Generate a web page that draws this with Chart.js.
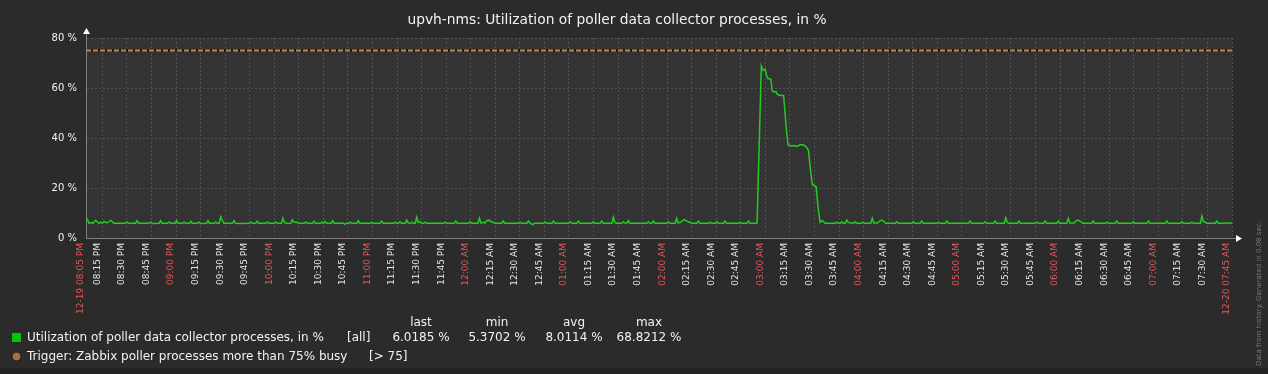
<!DOCTYPE html>
<html>
<head>
<meta charset="utf-8">
<title>upvh-nms: poller utilization</title>
<script src="https://cdn.jsdelivr.net/npm/chart.js@4.4.1/dist/chart.umd.min.js"></script>
<style>
  html, body { margin: 0; padding: 0; background: #2b2b2b; }
  canvas { display: block; }
</style>
</head>
<body>
<canvas id="graph" width="1268" height="374"></canvas>
<script>
const graphTitle = 'upvh-nms: Utilization of poller data collector processes, in %';
const itemName = 'Utilization of poller data collector processes, in %';
const triggerName = 'Trigger: Zabbix poller processes more than 75% busy';
const triggerLevel = 75;

// time axis labels, 12-19 08:05 PM .. 12-20 07:45 AM
const xTickLabels = [
    '12-19 08:05 PM', '08:15 PM', '08:30 PM', '08:45 PM',
    '09:00 PM', '09:15 PM', '09:30 PM', '09:45 PM',
    '10:00 PM', '10:15 PM', '10:30 PM', '10:45 PM',
    '11:00 PM', '11:15 PM', '11:30 PM', '11:45 PM',
    '12:00 AM', '12:15 AM', '12:30 AM', '12:45 AM',
    '01:00 AM', '01:15 AM', '01:30 AM', '01:45 AM',
    '02:00 AM', '02:15 AM', '02:30 AM', '02:45 AM',
    '03:00 AM', '03:15 AM', '03:30 AM', '03:45 AM',
    '04:00 AM', '04:15 AM', '04:30 AM', '04:45 AM',
    '05:00 AM', '05:15 AM', '05:30 AM', '05:45 AM',
    '06:00 AM', '06:15 AM', '06:30 AM', '06:45 AM',
    '07:00 AM', '07:15 AM', '07:30 AM', '12-20 07:45 AM'
];
const yTicks = [0, 20, 40, 60, 80];

// samples: minutes after 08:05 PM, utilization in %
const minutes = [
    0, 0.9, 1.8, 3.1, 4.3, 5.9, 7.9, 9.2, 10.1, 11.0, 12.8, 15.1, 17.1,
    24.1, 25.0, 25.9, 30.3, 31.2, 32.1, 38.6, 39.5, 40.4, 44.7, 45.6, 46.5,
    49.8, 50.7, 51.6, 54.4, 55.3, 56.2, 59.0, 59.9, 60.8, 63.1, 64.0, 64.9,
    68.1, 69.0, 69.9, 73.6, 74.5, 75.4, 78.3, 79.2, 80.1, 81.4, 82.3, 83.3, 84.2,
    86.3, 89.5, 90.4, 91.3, 94.5, 99.7, 100.6, 101.5, 103.7, 104.6, 105.5,
    109.9, 110.8, 111.7, 115.0, 115.9, 116.8, 119.4, 120.3, 121.2, 123.0,
    125.1, 126.0, 127.0, 129.1, 130.0, 133.3, 134.2, 135.1, 138.4, 139.3, 140.2,
    143.1, 144.0, 145.0, 146.0, 146.9, 149.8, 150.7, 151.6, 157.3, 158.2, 159.1,
    160.4, 161.3, 162.2, 165.4, 166.3, 167.2, 173.6, 174.5, 175.4, 179.7, 180.6, 181.5,
    187.9, 188.8, 189.7, 190.9, 191.8, 192.7, 195.0, 195.9, 196.8, 198.1, 199.0, 199.9,
    201.1, 202.0, 202.9, 204.0, 205.0, 206.2, 207.1, 208.0, 218.4, 219.3, 220.2,
    224.9, 225.8, 226.7, 233.7, 234.6, 235.5, 239.4, 240.3, 241.2, 242.7, 243.6,
    244.3, 245.8, 247.3, 248.2, 248.8, 249.7, 254.0, 254.9, 255.8,
    264.2, 265.1, 266.0, 269.3, 270.2, 271.1, 272.9, 273.8,
    279.5, 280.4, 281.3, 284.6, 285.5, 286.4, 294.8, 295.7, 296.6, 299.8, 300.7, 301.6,
    309.0, 309.9, 310.8, 314.1, 315.0, 315.9, 321.2, 322.1, 323.0, 324.0,
    327.3, 328.2, 329.1, 330.4, 331.3, 332.2, 342.6, 343.5, 344.4, 345.7, 346.6, 347.5,
    354.8, 355.7, 356.6, 359.9, 360.8, 361.7, 363.2, 364.2, 365.5, 366.8, 368.0, 369.0, 369.9,
    373.1, 374.0, 374.9, 380.3, 381.2, 382.1, 384.4, 385.3, 386.2, 389.4, 390.3, 391.2,
    398.6, 399.5, 400.4, 403.7, 404.6, 405.5, 408.7,
    409.9, 411.1, 412.5, 413.6, 414.8, 415.9, 416.6, 418.3, 419.1, 419.7, 421.5, 422.1, 423.9, 426.1,
    427.0, 428.0, 428.8, 430.7, 432.6, 434.3, 436.2, 438.0, 439.9, 441.3, 442.4, 443.6, 444.8, 446.0,
    447.2, 448.4, 449.8, 451.4,
    457.7, 458.6, 459.5, 460.7, 461.6, 462.5, 463.8, 464.7, 465.6, 468.9, 469.8, 470.7,
    473.7, 474.6, 475.5, 479.4, 480.3, 481.2, 483.4, 484.6, 486.1, 487.6, 488.5,
    494.3, 495.2, 496.1, 504.5, 505.4, 506.3, 509.6, 510.5, 511.4, 519.7, 520.6, 521.5,
    524.9, 525.8, 526.7, 539.1, 540.0, 540.9, 548.3, 549.2, 550.1, 554.4, 555.3, 556.2,
    560.9, 561.8, 562.7, 563.6, 569.0, 569.9, 570.8,
    579.9, 580.8, 581.7, 584.9, 585.8, 586.7, 593.0, 593.9, 594.8, 599.1, 600.0, 600.9,
    603.5, 604.6, 605.8, 607.0, 608.0, 609.0, 614.4, 615.3, 616.2, 622.6, 623.5, 624.4,
    628.7, 629.6, 630.5, 638.8, 639.7, 640.6, 648.0, 648.9, 649.8, 659.3, 660.2, 661.1,
    668.5, 669.4, 670.3, 674.6, 675.5, 676.4, 680.7, 681.6, 682.5, 683.6, 684.5,
    689.8, 690.7, 691.6, 700
];
const utilization = [
    8.0, 7.4, 5.9, 6.2, 5.9, 7.1, 5.9, 6.3, 6.0, 6.6, 6.0, 7.0, 5.9,
    5.9, 6.4, 5.9, 5.9, 6.9, 5.9, 5.9, 6.4, 5.8, 5.9, 6.9, 5.9,
    5.9, 6.4, 5.9, 5.9, 6.9, 5.9, 5.9, 6.4, 5.9, 5.9, 6.7, 5.9,
    5.9, 6.4, 5.8, 5.9, 6.9, 5.9, 5.9, 6.4, 5.9, 5.9, 8.5, 7.0, 5.9,
    5.9, 5.9, 7.0, 5.9, 5.8, 5.9, 6.4, 5.9, 5.9, 6.7, 5.9,
    5.9, 6.4, 5.9, 5.9, 6.4, 5.9, 5.9, 7.9, 6.2, 5.8,
    5.9, 7.3, 6.4, 6.2, 5.9, 5.9, 6.4, 5.9, 5.9, 6.7, 5.9,
    5.9, 6.3, 5.9, 6.6, 5.9, 5.9, 6.9, 5.9, 5.9, 5.5, 5.9,
    5.9, 6.3, 5.9, 5.9, 6.9, 5.9, 5.9, 6.3, 5.9, 5.9, 6.8, 5.9,
    5.9, 6.3, 5.9, 5.9, 6.5, 5.9, 5.9, 7.2, 6.0, 5.9, 6.3, 5.9,
    5.9, 8.3, 6.2, 6.5, 5.9, 5.9, 6.3, 5.9, 5.9, 6.3, 5.9,
    5.9, 6.8, 5.9, 5.9, 6.5, 5.9, 5.9, 7.9, 6.0, 6.3, 5.9,
    6.6, 7.2, 6.6, 6.2, 6.3, 5.9, 5.9, 6.8, 5.9,
    5.9, 6.3, 5.9, 5.9, 6.8, 6.0, 5.3, 5.9,
    5.9, 6.5, 5.9, 5.9, 6.8, 5.9, 5.9, 6.5, 5.9, 5.9, 6.8, 5.9,
    5.9, 6.5, 5.9, 5.9, 6.8, 5.9, 5.9, 8.3, 6.3, 5.9,
    5.9, 6.5, 6.0, 6.0, 6.9, 5.9, 5.9, 6.5, 5.9, 5.9, 6.8, 5.9,
    5.9, 6.5, 5.9, 5.9, 7.9, 6.0, 6.3, 6.9, 7.4, 6.9, 6.3, 6.3, 5.9,
    5.9, 6.8, 5.9, 5.9, 6.3, 5.9, 5.9, 6.5, 5.9, 5.9, 6.8, 5.9,
    5.9, 6.3, 5.9, 5.9, 6.8, 5.9, 5.9,
    6.0, 35, 68.8212, 67, 67.5, 64.5, 63.8, 63.5, 59, 58.5, 58.5, 57.5, 57, 57,
    50, 42, 37.2, 36.8, 37, 36.6, 37.3, 37.3, 36.5, 35, 28, 21.5, 21, 20.5,
    12, 6.2, 7.0, 5.9,
    5.9, 6.3, 5.9, 5.9, 6.5, 5.9, 5.9, 7.2, 6.2, 5.9, 6.5, 5.9,
    5.9, 6.3, 5.9, 5.9, 7.9, 6.0, 6.0, 6.7, 7.2, 6.5, 5.9,
    5.9, 6.5, 5.9, 5.9, 6.5, 5.9, 5.9, 6.8, 5.9, 5.9, 6.3, 5.9,
    5.9, 6.8, 5.9, 5.9, 6.8, 5.9, 5.9, 6.5, 5.9, 5.9, 6.8, 5.9,
    5.9, 8.1, 6.3, 5.9, 5.9, 6.8, 5.9,
    5.9, 6.3, 5.9, 5.9, 6.8, 5.9, 5.9, 6.8, 5.9, 5.9, 7.9, 6.0,
    6.0, 6.8, 7.2, 6.8, 6.3, 5.9, 5.9, 6.8, 5.9, 5.9, 6.3, 5.9,
    5.9, 6.8, 5.9, 5.9, 6.5, 5.9, 5.9, 6.8, 5.9, 5.9, 6.8, 5.9,
    5.9, 6.5, 5.9, 5.9, 6.3, 5.9, 5.9, 8.8, 6.6, 6.3, 5.9,
    5.9, 6.8, 5.9, 6.0185
];

// legend table
const legendHeaders = ['last', 'min', 'avg', 'max'];
const legendValues = ['6.0185 %', '5.3702 %', '8.0114 %', '68.8212 %'];
const footNote = 'Data from history. Generated in 0.08 sec.';

const TEXT = '#f2f2f2';
const RED = '#e8575a';
const ITEM_COLOR = '#00c800';
const TRIGGER_COLOR = '#c8864e';

function labelMinutes(label) {
    const m = label.match(/(\d\d):(\d\d) (AM|PM)$/);
    let t = (parseInt(m[1], 10) % 12 + (m[3] === 'PM' ? 12 : 0)) * 60 + parseInt(m[2], 10);
    t -= 20 * 60 + 5;
    if (t < 0) t += 1440;
    return t;
}
const labelAt = new Map(xTickLabels.map(l => [labelMinutes(l), l]));
const isMainLabel = l => /^\d\d-\d\d /.test(l) || / ?\d\d:00 /.test(l);

const zabbixFrame = {
    id: 'zabbixFrame',
    beforeDraw(chart) {
        const {ctx, chartArea: a} = chart;
        ctx.save();
        ctx.fillStyle = '#2b2b2b';
        ctx.fillRect(0, 0, chart.width, chart.height);
        ctx.fillStyle = '#222222';
        ctx.fillRect(0, chart.height - 6, chart.width, 6);
        ctx.fillStyle = '#333333';
        ctx.fillRect(a.left, a.top, a.right - a.left, a.bottom - a.top);
        ctx.restore();
    },
    afterDraw(chart) {
        const {ctx, chartArea: a} = chart;
        ctx.save();

        // title
        ctx.fillStyle = TEXT;
        ctx.font = '13.8px "DejaVu Sans"';
        ctx.textAlign = 'center';
        ctx.textBaseline = 'middle';
        ctx.fillText(graphTitle, 617, 20);

        // axis extensions with arrows
        ctx.strokeStyle = '#808080';
        ctx.lineWidth = 1;
        ctx.beginPath();
        ctx.moveTo(a.left + 0.5, a.top);
        ctx.lineTo(a.left + 0.5, a.top - 6);
        ctx.moveTo(a.right, a.bottom + 0.5);
        ctx.lineTo(a.right + 5, a.bottom + 0.5);
        ctx.stroke();
        ctx.fillStyle = '#ffffff';
        ctx.beginPath();
        ctx.moveTo(a.left + 0.5, a.top - 10);
        ctx.lineTo(a.left - 3, a.top - 4);
        ctx.lineTo(a.left + 4, a.top - 4);
        ctx.closePath();
        ctx.fill();
        ctx.beginPath();
        ctx.moveTo(a.right + 10, a.bottom + 0.5);
        ctx.lineTo(a.right + 4, a.bottom - 3);
        ctx.lineTo(a.right + 4, a.bottom + 4);
        ctx.closePath();
        ctx.fill();

        // legend
        const cols = [421, 497, 574, 649];
        ctx.font = '12px "DejaVu Sans"';
        ctx.fillStyle = TEXT;
        ctx.textAlign = 'center';
        legendHeaders.forEach((h, i) => ctx.fillText(h, cols[i], 323));
        legendValues.forEach((v, i) => ctx.fillText(v, cols[i], 338));
        ctx.textAlign = 'left';
        ctx.fillText(itemName, 27, 338);
        ctx.fillText('[all]', 347, 338);
        ctx.fillText(triggerName, 27, 357);
        ctx.fillText('[> ' + triggerLevel + ']', 369, 357);

        ctx.fillStyle = ITEM_COLOR;
        ctx.fillRect(12, 333, 9, 9);
        ctx.fillStyle = '#a8703f';
        ctx.strokeStyle = '#1a1a1a';
        ctx.beginPath();
        ctx.arc(16.5, 356.5, 4.5, 0, Math.PI * 2);
        ctx.fill();
        ctx.stroke();

        // footnote on the right edge
        ctx.translate(1259, 366);
        ctx.rotate(-Math.PI / 2);
        ctx.font = '7px "DejaVu Sans"';
        ctx.fillStyle = '#7a7a7a';
        ctx.textAlign = 'left';
        ctx.textBaseline = 'middle';
        ctx.fillText(footNote, 0, 0);
        ctx.restore();
    }
};

Chart.defaults.font.family = '"DejaVu Sans"';

const ctx = document.getElementById('graph').getContext('2d');
const graph = new Chart(ctx, {
    type: 'line',
    data: {
        datasets: [
            {
                label: itemName,
                data: minutes.map((m, i) => ({x: m, y: utilization[i]})),
                borderColor: '#22cc22',
                borderWidth: 1.5,
                pointRadius: 0,
                tension: 0,
                order: 1
            },
            {
                label: 'trigger-base',
                data: [{x: 0, y: triggerLevel}, {x: 700, y: triggerLevel}],
                borderColor: '#111111',
                borderWidth: 2,
                pointRadius: 0,
                order: 3
            },
            {
                label: triggerName,
                data: [{x: 0, y: triggerLevel}, {x: 700, y: triggerLevel}],
                borderColor: TRIGGER_COLOR,
                borderWidth: 2,
                borderDash: [5, 2],
                pointRadius: 0,
                order: 2
            }
        ]
    },
    options: {
        responsive: false,
        animation: false,
        devicePixelRatio: 1,
        layout: {padding: {left: 0, right: 36, top: 38, bottom: 0}},
        scales: {
            x: {
                type: 'linear',
                min: 0,
                max: 700,
                afterBuildTicks: scale => {
                    scale.ticks = xTickLabels.map(l => ({value: labelMinutes(l)}));
                },
                afterFit: scale => { scale.height = 136; },
                ticks: {
                    autoSkip: false,
                    minRotation: 90,
                    maxRotation: 90,
                    padding: 5,
                    labelOffset: -5,
                    font: {size: 9},
                    callback: value => labelAt.get(value),
                    color: c => isMainLabel(labelAt.get(c.tick.value) || '') ? RED : '#e6e6e6'
                },
                grid: {
                    drawTicks: false,
                    color: c => (c.tick && c.tick.value === 0) ? 'rgba(0,0,0,0)' : '#505050'
                },
                border: {color: '#808080', dash: [2, 2]}
            },
            y: {
                min: 0,
                max: 80,
                afterBuildTicks: scale => {
                    scale.ticks = yTicks.map(v => ({value: v}));
                },
                afterFit: scale => { scale.width = 86; },
                ticks: {
                    padding: 9,
                    color: TEXT,
                    font: {size: 10},
                    callback: v => v + ' %'
                },
                grid: {
                    drawTicks: false,
                    color: c => (c.tick && c.tick.value === 0) ? 'rgba(0,0,0,0)' : '#505050'
                },
                border: {color: '#808080', dash: [2, 2]}
            }
        },
        plugins: {
            legend: {display: false},
            tooltip: {enabled: false}
        }
    },
    plugins: [zabbixFrame]
});
</script>
</body>
</html>
